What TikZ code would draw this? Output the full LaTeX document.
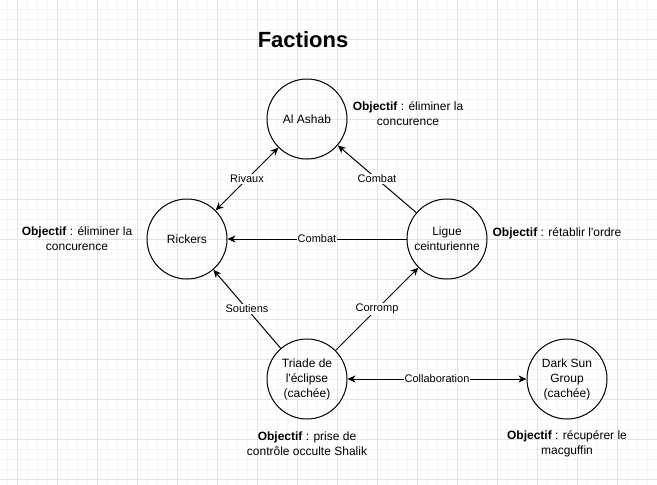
\documentclass[tikz,border=0pt]{standalone}
\usepackage{fontspec}
\setmainfont{Liberation Sans}
\usetikzlibrary{positioning,arrows.meta}
\tikzset{
    x=1pt,
    y=-1pt,
    faction/.style = {
        draw,
        shape=circle,
        minimum size=80pt,
        inner sep=0pt,
        align=center,
        line width=1pt,
        font=\fontsize{12}{15}\selectfont
    },
    objectif/.style = {
        shape=rectangle,
        align=center,
        inner sep=1pt,
        font=\fontsize{12}{15}\selectfont
    },
    lien/.style = {
        fill=white,
        inner sep=1pt,
        font=\fontsize{11}{13}\selectfont
    },
    minorgrid/.style = {color=black!4, line width=0.6pt},
    majorgrid/.style = {color=black!11, line width=0.8pt},
    >={Stealth[length=8pt,width=7pt,inset=2.5pt]},
}
\begin{document}
\begin{tikzpicture}
                \useasboundingbox (0,0) rectangle (657,485);
                \fill[white] (0,0) rectangle (657,485);
                % grille
                \foreach \x in {7.5,17.5,...,657} {\draw[minorgrid] (\x,0) -- (\x,485);}
                \foreach \y in {9.5,19.5,...,485} {\draw[minorgrid] (0,\y) -- (657,\y);}
                \foreach \x in {17.5,57.5,...,657} {\draw[majorgrid] (\x,0) -- (\x,485);}
                \foreach \y in {39.5,79.5,...,485} {\draw[majorgrid] (0,\y) -- (657,\y);}

                \node[font=\fontsize{22}{26}\selectfont\bfseries] (titre) at (303,40) {Factions};

                \node[faction] (alashab) at (307,119) {Al Ashab};
                \node[faction] (rickers) at (187,239) {Rickers};
                \node[faction] (ligue) at (447,239) {Ligue\\ceinturienne};
                \node[faction] (triade) at (307,379) {Triade de\\l\textquotesingle éclipse\\(cachée)};
                \node[faction] (darksun) at (567,379) {Dark Sun\\Group\\(cachée)};

                \node[objectif] (objalashab) at (408,114) {\textbf{Objectif} : éliminer la\\concurence};
                \node[objectif] (objrickers) at (77,239) {\textbf{Objectif} : éliminer la\\concurence};
                \node[objectif] (objligue) at (557,233) {\textbf{Objectif} : rétablir l\textquotesingle ordre};
                \node[objectif] (objtriade) at (307,444) {\textbf{Objectif} : prise de\\contrôle occulte Shalik};
                \node[objectif] (objdarksun) at (567,444) {\textbf{Objectif} : récupérer le\\macguffin};

                \path[draw, line width=1pt, <->] (rickers) -- node[lien] {Rivaux} (alashab);
                \path[draw, line width=1pt, ->] (ligue) -- node[lien] {Combat} (alashab);
                \path[draw, line width=1pt, ->] (ligue) -- node[lien] {Combat} (rickers);
                \path[draw, line width=1pt, ->] (triade) -- node[lien] {Soutiens} (rickers);
                \path[draw, line width=1pt, ->] (triade) -- node[lien] {Corromp} (ligue);
                \path[draw, line width=1pt, <->] (triade) -- node[lien] {Collaboration} (darksun);
            \end{tikzpicture}
\end{document}
